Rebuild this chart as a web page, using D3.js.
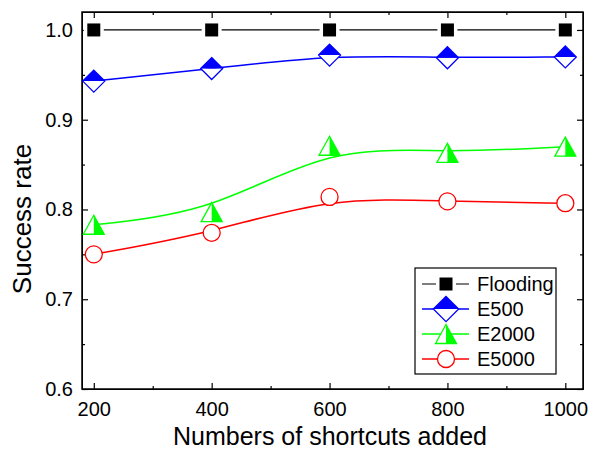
<!DOCTYPE html>
<html>
<head>
<meta charset="utf-8">
<script src="https://cdn.jsdelivr.net/npm/d3@7"></script>
<style>
  body { margin: 0; background: #fff; }
  svg { display: block; font-family: "Liberation Sans", Arial, sans-serif; }
</style>
</head>
<body>
<div class="chart"></div>
<script>
// data
var shortcuts = [200, 400, 600, 800, 1000];
var flooding = [1.0, 1.0, 1.0, 1.0, 1.0];
var e500 = [0.943, 0.957, 0.972, 0.969, 0.970];
var e2000 = [0.783, 0.797, 0.871, 0.863, 0.870];
var e5000 = [0.750, 0.774, 0.814, 0.809, 0.807];
var seriesNames = ["Flooding", "E500", "E2000", "E5000"];
var xTicks = [200, 400, 600, 800, 1000];
var yTicks = [0.6, 0.7, 0.8, 0.9, 1.0];

var W = 593, H = 457;
var margin = { top: 12, right: 10, bottom: 68, left: 82 },
    width = W - margin.left - margin.right,
    height = H - margin.top - margin.bottom;

var svg = d3.select(".chart")
    .append("svg")
    .attr("width", W)
    .attr("height", H);

var g = svg.append("g")
    .attr("transform", "translate(" + margin.left + "," + margin.top + ")");

var x = d3.scaleLinear().domain([180, 1030]).range([0, width]);
var y = d3.scaleLinear().domain([0.6, 1.02]).range([height, 0]);

// axes, ticks pointing inward on all four sides
var minorX = d3.range(300, 1001, 200);
var minorY = d3.range(0.65, 1.0, 0.1);

function ticksOn(axis, tickVals, size) {
    return axis.tickValues(tickVals).tickSizeInner(size).tickSizeOuter(0).tickFormat("");
}

var axBottom = g.append("g").attr("transform", "translate(0," + height + ")");
axBottom.call(ticksOn(d3.axisTop(x), xTicks, 6));
axBottom.append("g").call(ticksOn(d3.axisTop(x), minorX, 3));
var bl = g.append("g").attr("transform", "translate(0," + height + ")")
    .call(d3.axisBottom(x).tickValues(xTicks).tickSize(0).tickPadding(13).tickFormat(d3.format("d")));
bl.select(".domain").remove();

var axTop = g.append("g");
axTop.call(ticksOn(d3.axisBottom(x), xTicks, 6));
axTop.append("g").call(ticksOn(d3.axisBottom(x), minorX, 3));

var axLeft = g.append("g");
axLeft.call(ticksOn(d3.axisRight(y), yTicks, 6));
axLeft.append("g").call(ticksOn(d3.axisRight(y), minorY, 3));
var ll = g.append("g")
    .call(d3.axisLeft(y).tickValues(yTicks).tickSize(0).tickPadding(9).tickFormat(d3.format(".1f")));
ll.select(".domain").remove();

var axRight = g.append("g").attr("transform", "translate(" + width + ",0)");
axRight.call(ticksOn(d3.axisLeft(y), yTicks, 6));
axRight.append("g").call(ticksOn(d3.axisLeft(y), minorY, 3));

g.selectAll("g").attr("font-family", null);
g.selectAll(".tick text").style("font-size", "20px").attr("fill", "#000");
g.selectAll(".tick line").attr("stroke", "#000").attr("stroke-width", 1.2);

g.append("rect")
    .attr("width", width).attr("height", height)
    .attr("fill", "none").attr("stroke", "#000").attr("stroke-width", 1.5);

// axis titles
svg.append("text")
    .attr("x", 330)
    .attr("y", 445)
    .attr("text-anchor", "middle")
    .style("font-size", "25px")
    .text("Numbers of shortcuts added");

svg.append("text")
    .attr("transform", "rotate(-90)")
    .attr("x", -219)
    .attr("y", 31)
    .attr("text-anchor", "middle")
    .style("font-size", "26px")
    .text("Success rate");

// markers
function drawMarker(sel, kind, color, big) {
    var k = big ? 1.15 : 1;
    if (kind === "square") {
        sel.append("rect").attr("x", -10).attr("y", -10).attr("width", 20).attr("height", 20)
            .attr("fill", "#fff");
        sel.append("rect").attr("x", -6.5).attr("y", -6.5).attr("width", 13).attr("height", 13)
            .attr("fill", color);
    } else if (kind === "diamond") {
        var r = 11 * k;
        sel.append("path").attr("d", "M" + -r + ",0L" + r + ",0L0," + r + "Z").attr("fill", "#fff");
        sel.append("path").attr("d", "M" + -r + ",0L0," + -r + "L" + r + ",0Z").attr("fill", color);
        sel.append("path").attr("d", "M0," + -r + "L" + r + ",0L0," + r + "L" + -r + ",0Z")
            .attr("fill", "none").attr("stroke", color).attr("stroke-width", 1.3);
    } else if (kind === "triangle") {
        sel.append("path").attr("d", "M0,-9.5L0,9.5L-10.5,9.5Z").attr("fill", "#fff");
        sel.append("path").attr("d", "M0,-9.5L10.5,9.5L0,9.5Z").attr("fill", color);
        sel.append("path").attr("d", "M0,-9.5L10.5,9.5L-10.5,9.5Z")
            .attr("fill", "none").attr("stroke", color).attr("stroke-width", 1.3);
    } else {
        sel.append("circle").attr("r", 8.5).attr("fill", "#fff")
            .attr("stroke", color).attr("stroke-width", 1.3);
    }
}

var series = [
    { name: seriesNames[0], values: flooding, color: "#000000", kind: "square", lw: 1.2 },
    { name: seriesNames[1], values: e500, color: "#0000ff", kind: "diamond", lw: 1.5 },
    { name: seriesNames[2], values: e2000, color: "#00ff00", kind: "triangle", lw: 1.5 },
    { name: seriesNames[3], values: e5000, color: "#ff0000", kind: "circle", lw: 1.5 }
];

var line = d3.line()
    .x(function (d) { return x(d[0]); })
    .y(function (d) { return y(d[1]); })
    .curve(d3.curveBasis);

series.forEach(function (s) {
    var pts = shortcuts.map(function (v, i) { return [v, s.values[i]]; });
    g.append("path")
        .datum(pts)
        .attr("d", line)
        .attr("fill", "none")
        .attr("stroke", s.color)
        .attr("stroke-width", s.lw);
});

series.forEach(function (s) {
    shortcuts.forEach(function (v, i) {
        var m = g.append("g")
            .attr("transform", "translate(" + x(v) + "," + y(s.values[i]) + ")");
        drawMarker(m, s.kind, s.color, false);
    });
});

// legend
var legend = svg.append("g").attr("transform", "translate(415,268)");
legend.append("rect")
    .attr("width", 141).attr("height", 106)
    .attr("fill", "#fff").attr("stroke", "#000").attr("stroke-width", 1.2);

series.forEach(function (s, i) {
    var ry = 16 + i * 25;
    var row = legend.append("g").attr("transform", "translate(0," + ry + ")");
    row.append("line")
        .attr("x1", 7).attr("x2", 54)
        .attr("stroke", s.color).attr("stroke-width", s.lw);
    var m = row.append("g").attr("transform", "translate(31,0)");
    drawMarker(m, s.kind, s.color, true);
    row.append("text")
        .attr("x", 62).attr("y", 7)
        .style("font-size", "20px")
        .text(s.name);
});
</script>
</body>
</html>
